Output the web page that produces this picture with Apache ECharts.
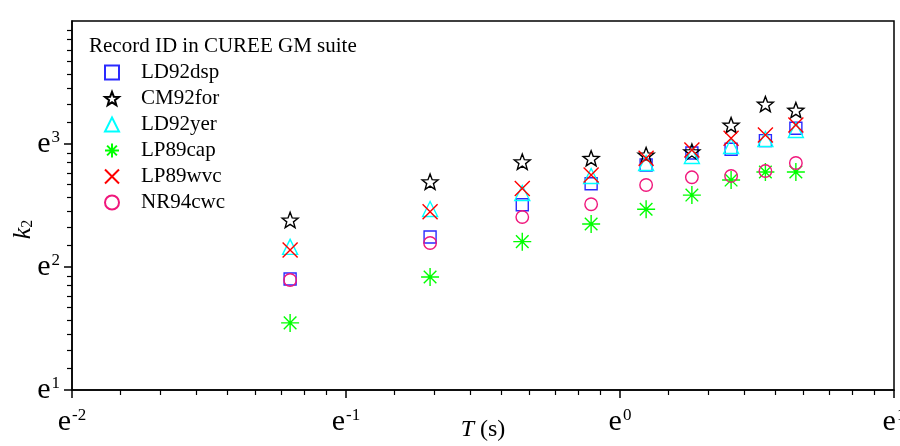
<!DOCTYPE html>
<html>
<head>
<meta charset="utf-8">
<script src="https://cdn.jsdelivr.net/npm/echarts@6/dist/echarts.min.js"></script>
<style>
html,body{margin:0;padding:0;background:#fff;}
#chart{width:900px;height:446px;}
</style>
</head>
<body>
<div id="chart"></div>
<script>
// ---- data ----
const periodT = [0.3, 0.5, 0.7, 0.9, 1.1, 1.3, 1.5, 1.7, 1.9];
const LD92dsp = [6.70, 9.43, 12.26, 14.54, 16.93, 18.67, 19.24, 20.64, 22.83];
const CM92for = [10.83, 14.78, 17.39, 17.88, 18.37, 18.87, 23.44, 27.8, 26.47];
const LD92yer = [8.70, 11.84, 13.49, 15.49, 17.21, 18.21, 19.77, 20.92, 22.51];
const LP89cap = [4.69, 6.81, 9.08, 10.48, 11.81, 13.26, 14.98, 15.99, 15.99];
const LP89wvc = [8.48, 11.58, 14.0, 15.61, 17.88, 19.12, 21.03, 21.6, 23.44];
const NR94cwc = [6.65, 8.98, 11.09, 12.31, 14.39, 15.32, 15.49, 16.12, 17.21];
const seriesNames = ['LD92dsp', 'CM92for', 'LD92yer', 'LP89cap', 'LP89wvc', 'NR94cwc'];
const legendTitle = 'Record ID in CUREE GM suite';
const xTickExponents = [-2, -1, 0, 1];
const yTickExponents = [1, 2, 3, 4];

// ---- styling ----
const FONT = '"Liberation Serif", "Times New Roman", serif';
const colors = ['#2a2aff', '#000000', '#00ffff', '#00ff00', '#ff0000', '#f0177c'];
const STAR = 'path://M10,0L12.47,6.6L19.51,6.91L13.99,11.3L15.88,18.09L10,14.2L4.12,18.09L6.01,11.3L0.49,6.91L7.53,6.6Z';
const XSYM = 'path://M0,0L10,10M10,0L0,10';
const AST = 'path://M5,0L5,10M0,5L10,5M1.5,1.5L8.5,8.5M8.5,1.5L1.5,8.5';
const symbols = ['rect', STAR, 'triangle', AST, XSYM, 'circle'];
const sizes = [12, 16, 15, 18, 15, 12.5];

const xMajor = xTickExponents.map(n => Math.exp(n));
const yMajor = yTickExponents.map(n => Math.exp(n));
function minors(exps) {
  const out = [];
  for (let i = 0; i < exps.length - 1; i++) {
    const a = Math.exp(exps[i]), b = Math.exp(exps[i + 1]);
    for (let j = 1; j <= 8; j++) out.push(a + j * (b - a) / 9);
  }
  return out;
}
const xMinor = minors(xTickExponents);
const yMinor = minors(yTickExponents);

const labelRich = {
  e: {fontSize: 30, fontFamily: FONT, color: '#000'},
  s: {fontSize: 17, fontFamily: FONT, color: '#000', verticalAlign: 'top', padding: [0, 0, 0, 1]}
};
function expFmt(v) {
  const n = Math.round(Math.log(v));
  return '{e|e}{s|' + n + '}';
}

const dataSets = [LD92dsp, CM92for, LD92yer, LP89cap, LP89wvc, NR94cwc];
const series = dataSets.map((arr, i) => ({
  name: seriesNames[i],
  type: 'scatter',
  xAxisIndex: 0,
  yAxisIndex: 0,
  symbol: symbols[i],
  symbolSize: sizes[i],
  symbolKeepAspect: true,
  itemStyle: {color: 'rgba(0,0,0,0)', borderColor: colors[i], borderWidth: 1.4, opacity: 1},
  emphasis: {disabled: true},
  data: periodT.map((t, k) => [t, arr[k]])
}));

const axisBase = {
  type: 'log', logBase: Math.E, splitLine: {show: false}, minorTick: {show: false}
};

const option = {
  animation: false,
  backgroundColor: '#fff',
  grid: {left: 72, right: 6, top: 21, bottom: 56, outerBoundsMode: 'none', containLabel: false,
    show: true, borderColor: '#000', borderWidth: 1.5, backgroundColor: 'rgba(0,0,0,0)'},
  title: {
    text: legendTitle, left: 84, top: 31,
    textStyle: {fontFamily: FONT, fontSize: 21, fontWeight: 'normal', color: '#000'}
  },
  legend: {
    orient: 'vertical', left: 99, top: 57,
    itemWidth: 14, itemHeight: 14, itemGap: 5,
    selectedMode: false,
    textStyle: {fontFamily: FONT, fontSize: 21, color: '#000', lineHeight: 21, padding: [0, 0, 0, 17]},
    data: seriesNames
  },
  xAxis: [
    Object.assign({}, axisBase, {
      min: Math.exp(-2), max: Math.exp(1), position: 'bottom',
      name: '{i|T} (s)', nameLocation: 'middle', nameGap: 28, nameMoveOverlap: false,
      nameTextStyle: {fontFamily: FONT, fontSize: 24, color: '#000', rich: {i: {fontFamily: FONT, fontSize: 24, fontStyle: 'italic'}}},
      axisLine: {show: true, lineStyle: {color: '#000', width: 1.5}},
      axisTick: {show: true, customValues: xMajor, length: 8, lineStyle: {color: '#000', width: 1.5}},
      axisLabel: {customValues: xMajor, formatter: expFmt, rich: labelRich, margin: 17, hideOverlap: false}
    }),
    Object.assign({}, axisBase, {
      min: Math.exp(-2), max: Math.exp(1), position: 'bottom',
      axisLine: {show: false},
      axisTick: {show: true, customValues: xMinor, length: 5, lineStyle: {color: '#000', width: 1.2}},
      axisLabel: {show: false}
    })
  ],
  yAxis: [
    Object.assign({}, axisBase, {
      min: Math.exp(1), max: Math.exp(4), position: 'left',
      name: '{i|k}{s|2}', nameLocation: 'middle', nameGap: 36, nameMoveOverlap: false,
      nameTextStyle: {fontFamily: FONT, fontSize: 24, color: '#000', padding: [0, 48, 0, 0],
        rich: {i: {fontFamily: FONT, fontSize: 26, fontStyle: 'italic'}, s: {fontFamily: FONT, fontSize: 16, verticalAlign: 'bottom'}}},
      axisLine: {show: true, lineStyle: {color: '#000', width: 1.5}},
      axisTick: {show: true, customValues: yMajor, length: 8, lineStyle: {color: '#000', width: 1.5}},
      axisLabel: {customValues: yMajor, formatter: expFmt, rich: labelRich, margin: 12, hideOverlap: false}
    }),
    Object.assign({}, axisBase, {
      min: Math.exp(1), max: Math.exp(4), position: 'left',
      axisLine: {show: false},
      axisTick: {show: true, customValues: yMinor, length: 5, lineStyle: {color: '#000', width: 1.2}},
      axisLabel: {show: false}
    })
  ],
  series: series
};

const chart = echarts.init(document.getElementById('chart'), null, {renderer: 'canvas'});
chart.setOption(option);
</script>
</body>
</html>
